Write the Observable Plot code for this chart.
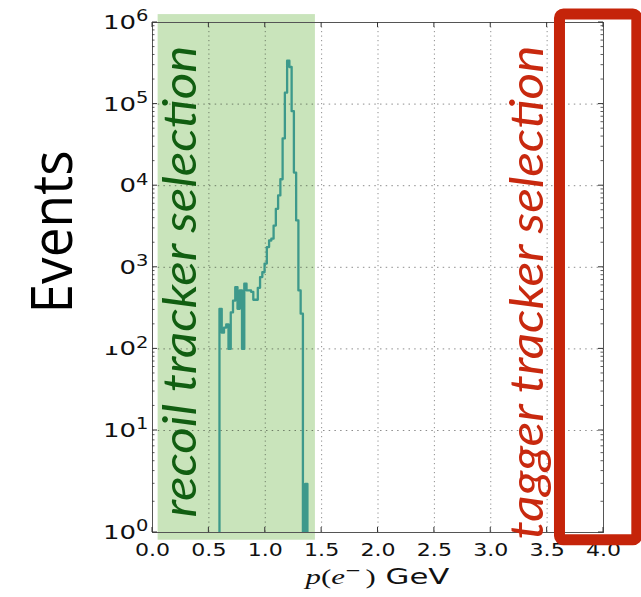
<!DOCTYPE html>
<html><head><meta charset="utf-8">
<script src="https://cdn.jsdelivr.net/npm/d3@7"></script>
<script src="https://cdn.jsdelivr.net/npm/@observablehq/plot@0.6"></script>
<style>html,body{margin:0;padding:0;background:#fff;overflow:hidden;} #chart svg{display:block;}</style>
</head><body><div id="chart"></div>
<script>
// ---- data ----
const binStart = 0.594;   // GeV, left edge of first filled bin
const binWidth = 0.02;    // GeV
const counts = [310,158,182,200,100,280,390,570,310,520,100,630,520,520,500,400,400,560,760,870,
                1110,1770,2130,2240,3250,5200,7600,12000,38000,138000,340000,285000,82000,14500,3750,520,270,0,3];
const xTicks = [0,0.5,1,1.5,2,2.5,3,3.5,4];
const xTickLabels = ["0.0","0.5","1.0","1.5","2.0","2.5","3.0","3.5","4.0"];
const yTicks = [1,10,100,1000,10000,100000,1000000];
const yTickExponents = ["0","1","2","3","4","5","6"];
const recoilRange = [0.05, 1.445];   // GeV, recoil tracker selection band
const taggerRange = [3.614, 4.30];   // GeV, tagger tracker selection box
const selectionLabels = ["recoil tracker selection", "tagger tracker selection"];
const yAxisLabel = "Events";
const xAxisLabelParts = ["p", "(", "e", "\u2212", ")", " GeV"];

// ---- build step outline ----
const floorV = 1;
const steps = [{x: binStart, y: floorV}];
counts.forEach((c, i) => {
  const x0 = binStart + i * binWidth, x1 = x0 + binWidth, v = c > 0 ? c : floorV;
  steps.push({x: x0, y: v}, {x: x1, y: v});
});
steps.push({x: binStart + counts.length * binWidth, y: floorV});

const boxY = [0.84, 1.25e6]; // vertical extent of highlight boxes (slightly beyond frame)
const xLabelMap = new Map(xTicks.map((t, i) => [t, xTickLabels[i]]));
const yExpMap = new Map(yTicks.map((t, i) => [t, yTickExponents[i]]));

const plot = Plot.plot({
  width: 641, height: 597,
  marginLeft: 152, marginRight: 38, marginTop: 22, marginBottom: 65,
  style: {fontFamily: "DejaVu Sans", background: "white", overflow: "visible", color: "#111"},
  x: {domain: [0, 4]},
  y: {type: "log", domain: [1, 10, 1e6], range: [532, 430, 22]},
  marks: [
    Plot.rect([recoilRange], {x1: d => d[0], x2: d => d[1], y1: () => boxY[0], y2: () => boxY[1], fill: "#c9e4bb"}),
    Plot.gridX(xTicks, {stroke: "#000", strokeOpacity: 0.45, strokeWidth: 1, strokeDasharray: "1.2,3.3"}),
    Plot.gridY(yTicks, {stroke: "#000", strokeOpacity: 0.45, strokeWidth: 1, strokeDasharray: "1.5,4.2"}),
    Plot.line(steps, {x: "x", y: "y", stroke: "#3d998b", strokeWidth: 2.3, clip: true}),
    Plot.frame({stroke: "#555"}),
    Plot.axisX(xTicks, {tickSize: 0, tickPadding: 11, tickFormat: d => xLabelMap.get(d), fontSize: 17, label: null}),
    Plot.axisY(yTicks, {tickSize: 0, tickPadding: 4, tickFormat: d => "10^" + yExpMap.get(d), fontSize: 20, label: null}),
    Plot.text([selectionLabels[0]], {text: d => d, frameAnchor: "left", dx: 28, dy: 4, rotate: -90,
      textAnchor: "middle", lineAnchor: "middle", fontSize: 47, fontStyle: "italic", fontFamily: "Lato", fill: "#115e11"}),
    Plot.text([selectionLabels[1]], {text: d => d, frameAnchor: "right", dx: -76, dy: 15, rotate: -90,
      textAnchor: "middle", lineAnchor: "middle", fontSize: 47, fontStyle: "italic", fontFamily: "Lato", fill: "#c8290f"}),
    Plot.rect([taggerRange], {x1: d => d[0], x2: d => d[1], y1: () => boxY[0], y2: () => boxY[1],
      fill: "none", stroke: "#c5240a", strokeWidth: 11, rx: 4})
  ]
});
document.getElementById("chart").appendChild(plot);

// ---- post-processing ----
const svg = d3.select(plot);
const sx = plot.scale("x"), sy = plot.scale("y");
const L = sx.apply(0), R = sx.apply(4), B = sy.apply(1), T = sy.apply(1e6);

function stretch(sel, k) {
  sel.each(function() {
    const t = d3.select(this);
    const tr = t.attr("transform");
    if (tr) t.attr("transform", tr + ` scale(${k},1)`);
    else {
      const x = +t.attr("x") || 0;
      t.attr("x", null).attr("transform", `translate(${x},0) scale(${k},1)`);
    }
  });
}
stretch(svg.selectAll('g[aria-label="x-axis tick label"] text'), 1.3);
svg.selectAll('g[aria-label="y-axis tick label"] text').each(function() {
  const t = d3.select(this);
  const exp = t.text().split("^")[1];
  t.text("");
  t.append("tspan").text("10");
  t.append("tspan").attr("font-size", 15).attr("dy", -7.5).text(exp);
});
stretch(svg.selectAll('g[aria-label="y-axis tick label"] text'), 1.3);

const byText = s => svg.selectAll("text").filter(function() { return this.textContent === s; });
byText(selectionLabels[0]).attr("textLength", 472).attr("lengthAdjust", "spacingAndGlyphs");
byText(selectionLabels[1]).attr("textLength", 494).attr("lengthAdjust", "spacingAndGlyphs");

// inward ticks (major + minor)
const tg = svg.append("g").attr("stroke", "#333").attr("stroke-width", 1);
xTicks.forEach(t => {
  const px = sx.apply(t);
  tg.append("line").attr("x1", px).attr("x2", px).attr("y1", B).attr("y2", B - 5);
  tg.append("line").attr("x1", px).attr("x2", px).attr("y1", T).attr("y2", T + 5);
});
yTicks.forEach(t => {
  const py = sy.apply(t);
  tg.append("line").attr("x1", L).attr("x2", L + 5).attr("y1", py).attr("y2", py);
  tg.append("line").attr("x1", R).attr("x2", R - 5).attr("y1", py).attr("y2", py);
});
yTicks.slice(0, -1).forEach(t => {
  for (let k = 2; k <= 9; k++) {
    const py = sy.apply(t * k);
    tg.append("line").attr("x1", L).attr("x2", L + 2.5).attr("y1", py).attr("y2", py).attr("stroke-width", 0.8);
    tg.append("line").attr("x1", R).attr("x2", R - 2.5).attr("y1", py).attr("y2", py).attr("stroke-width", 0.8);
  }
});

// x-axis label
const xl = svg.append("text").attr("transform", `translate(${(L + R) / 2},584) scale(1.4,1)`)
  .attr("text-anchor", "middle").attr("font-size", 22).attr("fill", "#111");
xl.append("tspan").attr("font-family", "Liberation Serif").attr("font-style", "italic").text(xAxisLabelParts[0]);
xl.append("tspan").attr("font-family", "Liberation Serif").text(xAxisLabelParts[1]);
xl.append("tspan").attr("font-family", "Liberation Serif").attr("font-style", "italic").text(xAxisLabelParts[2]);
xl.append("tspan").attr("font-family", "DejaVu Sans").attr("font-size", 14).attr("dy", -9).text(xAxisLabelParts[3]);
xl.append("tspan").attr("font-family", "Liberation Serif").attr("dy", 9).attr("dx", 3).text(xAxisLabelParts[4]);
xl.append("tspan").attr("font-family", "DejaVu Sans").text(xAxisLabelParts[5]);

// "Events" label on a white text box
svg.append("rect").attr("x", 0).attr("y", 140).attr("width", 118).attr("height", 206).attr("fill", "white");
svg.append("text").attr("transform", "translate(72,232) rotate(-90)")
  .attr("text-anchor", "middle").attr("font-family", "Open Sans").attr("font-size", 56)
  .attr("fill", "#000").attr("textLength", 163).attr("lengthAdjust", "spacingAndGlyphs").text(yAxisLabel);
</script>
</body></html>
